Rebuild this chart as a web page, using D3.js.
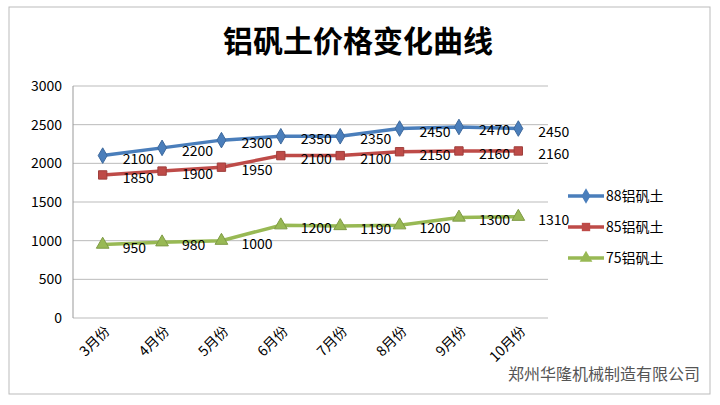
<!DOCTYPE html><html><head><meta charset="utf-8"><script src="https://cdn.jsdelivr.net/npm/d3@7"></script>
<style>body{margin:0;background:#fff}</style></head><body><svg id="c" width="720" height="405"></svg><script>
const months=["3月份","4月份","5月份","6月份","7月份","8月份","9月份","10月份"];
const s88=[2100,2200,2300,2350,2350,2450,2470,2450];
const s85=[1850,1900,1950,2100,2100,2150,2160,2160];
const s75=[950,980,1000,1200,1190,1200,1300,1310];
const yTicks=[0,500,1000,1500,2000,2500,3000];
const series=[{name:"88铝矾土",v:s88,c:"#4a7ebb",m:"diamond"},{name:"85铝矾土",v:s85,c:"#be4b48",m:"square"},{name:"75铝矾土",v:s75,c:"#98b954",m:"triangle"}];
const svg=d3.select("#c"),F="'Noto Sans CJK SC',sans-serif";
svg.append("rect").attr("x",9).attr("y",7).attr("width",701).attr("height",387).attr("fill","#fff").attr("stroke","#bbb");
svg.append("text").attr("x",358).attr("y",52).attr("text-anchor","middle").attr("font-family",F).attr("font-size",30).attr("font-weight","bold").text("铝矾土价格变化曲线");
const x=d3.scaleBand().domain(months).range([73,548]);
const y=d3.scaleLinear().domain([0,3000]).range([318,86]);
const g=svg.append("g");
g.selectAll("line.g").data(yTicks).join("line").attr("x1",73).attr("x2",548).attr("y1",d=>y(d)).attr("y2",d=>y(d)).attr("stroke","#bbb");
g.append("line").attr("x1",73).attr("x2",73).attr("y1",86).attr("y2",318).attr("stroke","#999");
g.selectAll("text.y").data(yTicks).join("text").attr("x",62).attr("y",d=>y(d)+5).attr("text-anchor","end").attr("font-family",F).attr("font-size",14).text(d=>d);
g.selectAll("text.x").data(months).join("text").attr("font-family",F).attr("font-size",14)
 .attr("text-anchor","end").attr("transform",d=>`translate(${x(d)+x.bandwidth()/2+8},${332}) rotate(-45)`).text(d=>d);
const sym={diamond:d3.symbol(d3.symbolDiamond,70),square:d3.symbol(d3.symbolSquare,70),triangle:d3.symbol(d3.symbolTriangle,70)};
const cx=d=>x(d)+x.bandwidth()/2;
series.forEach((s,si)=>{
 const line=d3.line().x((v,i)=>cx(months[i])).y(v=>y(v));
 g.append("path").datum(s.v).attr("d",line).attr("fill","none").attr("stroke",s.c).attr("stroke-width",3.5);
 g.selectAll(null).data(s.v).join("path").attr("d",sym[s.m]).attr("transform",(v,i)=>`translate(${cx(months[i])},${y(v)})`).attr("fill",s.c).attr("stroke",d3.color(s.c).darker(0.5));
 g.selectAll(null).data(s.v).join("text").attr("x",(v,i)=>cx(months[i])+20).attr("y",v=>y(v)+8).attr("font-family",F).attr("font-size",14).text(v=>v);
 const ly=196+si*31;
 g.append("line").attr("x1",568).attr("x2",604).attr("y1",ly).attr("y2",ly).attr("stroke",s.c).attr("stroke-width",3.5);
 g.append("path").attr("d",sym[s.m]).attr("transform",`translate(586,${ly})`).attr("fill",s.c);
 g.append("text").attr("x",606).attr("y",ly+5).attr("font-family",F).attr("font-size",14).text(s.name);
});
svg.append("text").attr("x",700).attr("y",380).attr("text-anchor","end").attr("font-family",F).attr("font-size",16).attr("fill","#555").text("郑州华隆机械制造有限公司");
</script></body></html>
